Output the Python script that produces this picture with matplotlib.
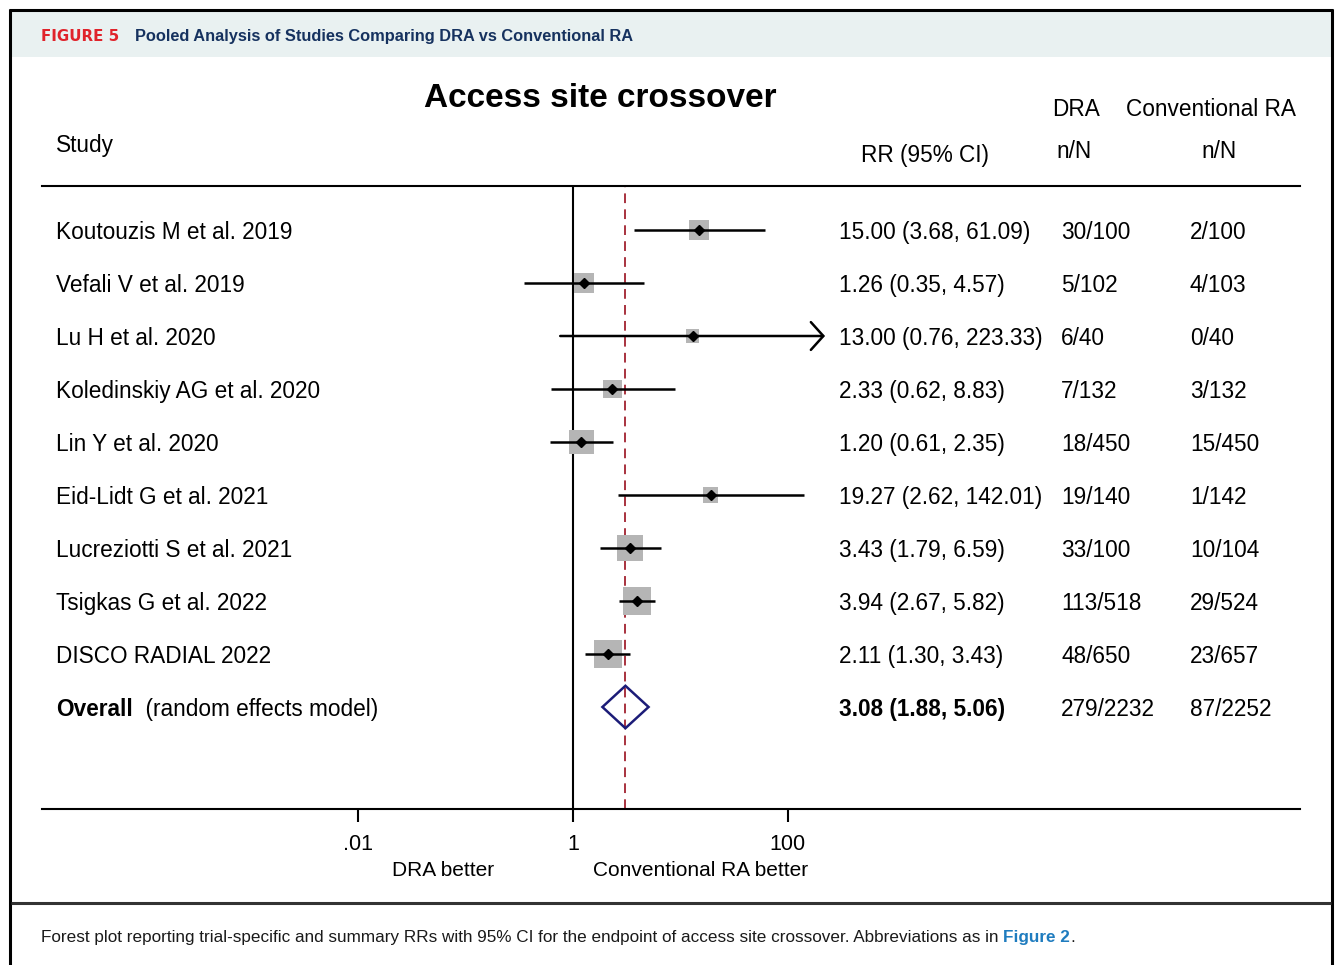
import matplotlib
matplotlib.use("Agg")
import matplotlib.pyplot as plt
from matplotlib import font_manager
from matplotlib.patches import Rectangle, Polygon
from matplotlib.transforms import blended_transform_factory
import numpy as np

# ---------------- Data ----------------
studies = [
    "Koutouzis M et al. 2019",
    "Vefali V et al. 2019",
    "Lu H et al. 2020",
    "Koledinskiy AG et al. 2020",
    "Lin Y et al. 2020",
    "Eid-Lidt G et al. 2021",
    "Lucreziotti S et al. 2021",
    "Tsigkas G et al. 2022",
    "DISCO RADIAL 2022",
]
rr = [15.00, 1.26, 13.00, 2.33, 1.20, 19.27, 3.43, 3.94, 2.11]
ci_lo = [3.68, 0.35, 0.76, 0.62, 0.61, 2.62, 1.79, 2.67, 1.30]
ci_hi = [61.09, 4.57, 223.33, 8.83, 2.35, 142.01, 6.59, 5.82, 3.43]
weights = [8.8, 9.2, 3.9, 8.3, 13.3, 5.2, 15.6, 18.1, 17.5]

dra_events = [30, 5, 6, 7, 18, 19, 33, 113, 48]
dra_total = [100, 102, 40, 132, 450, 140, 100, 518, 650]
conv_events = [2, 4, 0, 3, 15, 1, 10, 29, 23]
conv_total = [100, 103, 40, 132, 450, 142, 104, 524, 657]

overall_rr, overall_lo, overall_hi = 3.08, 1.88, 5.06

xticks = [0.01, 1, 100]
xtick_labels = [".01", "1", "100"]

# ---------------- Fonts ----------------
_names = {f.name for f in font_manager.fontManager.ttflist}
SANS = "Liberation Sans" if "Liberation Sans" in _names else "DejaVu Sans"
NARROW = "Liberation Sans Narrow" if "Liberation Sans Narrow" in _names else SANS
plt.rcParams["font.family"] = [SANS, "DejaVu Sans"]

FS = 16.3
VA = "center_baseline"
W, H = 1337, 965

fig = plt.figure(figsize=(W / 100, H / 100), dpi=100)

# pixel-space canvas for frame and headings
bg = fig.add_axes([0, 0, 1, 1])
bg.set_xlim(0, W)
bg.set_ylim(H, 0)
bg.axis("off")

bg.add_patch(Rectangle((11, 11), 1320, 46, facecolor="#e9f1f1", lw=0))
bg.plot([10, 10], [9, H], color="black", lw=2.2, solid_capstyle="butt")
bg.plot([1332, 1332], [9, H], color="black", lw=2.2, solid_capstyle="butt")
bg.plot([9, 1333], [10, 10], color="black", lw=2.2, solid_capstyle="butt")
bg.plot([11, 1331], [903, 903], color="#333333", lw=2.2, solid_capstyle="butt")

bg.text(41, 35, "FIGURE 5", color="#e0232b", fontsize=10.8, fontweight="bold",
        family="DejaVu Sans", va=VA, ha="left")
bg.text(135, 35, "Pooled Analysis of Studies Comparing DRA vs Conventional RA",
        color="#16325f", fontsize=11.8, fontweight="bold", family=NARROW,
        va=VA, ha="left")

cap = bg.text(41, 936, "Forest plot reporting trial-specific and summary RRs with 95% CI "
              "for the endpoint of access site crossover. Abbreviations as in ",
              fontsize=12.35, family=NARROW, va=VA, ha="left", color="#1a1a1a")
fig2 = bg.annotate("Figure 2", xy=(1, 0), xycoords=cap, va="bottom", ha="left",
                   fontsize=12.35, family=NARROW, fontweight="bold", color="#1f7cbf")
bg.annotate(".", xy=(1, 0), xycoords=fig2, va="bottom", ha="left",
            fontsize=12.35, family=NARROW, color="#1a1a1a")

# column headings
bg.text(600, 95, "Access site crossover", fontsize=24, fontweight="bold",
        ha="center", va=VA)
bg.text(56, 143, "Study", fontsize=FS, ha="left", va=VA)
bg.text(861, 153, "RR (95% CI)", fontsize=FS, ha="left", va=VA)
bg.text(1052, 107, "DRA", fontsize=FS, ha="left", va=VA)
bg.text(1126, 107, "Conventional RA", fontsize=FS, ha="left", va=VA)
bg.text(1056, 149, "n/N", fontsize=FS, ha="left", va=VA)
bg.text(1201, 149, "n/N", fontsize=FS, ha="left", va=VA)

# ---------------- Forest panel ----------------
x0, x1, y_top, y_bot = 42, 1300, 186, 809
px_one, px_dec = 573, 107.3
row0, row_step = 230, 53

ax = fig.add_axes([x0 / W, 1 - y_bot / H, (x1 - x0) / W, (y_bot - y_top) / H])
ax.patch.set_visible(False)
ax.set_xscale("log")
ax.set_xlim(10 ** ((x0 - px_one) / px_dec), 10 ** ((x1 - px_one) / px_dec))
ax.set_ylim((y_bot - row0) / row_step, (y_top - row0) / row_step)

for side in ("left", "right"):
    ax.spines[side].set_visible(False)
for side in ("top", "bottom"):
    ax.spines[side].set_linewidth(1.5)

ax.set_xticks(xticks)
ax.set_xticklabels(xtick_labels, fontsize=15.5)
ax.xaxis.set_minor_locator(matplotlib.ticker.NullLocator())
ax.tick_params(axis="x", direction="out", length=9.5, width=1.5, pad=8.5)
ax.set_yticks([])

ax.axvline(1, color="black", lw=1.5)
ax.axvline(overall_rr, color="#a8323e", lw=1.4, dashes=(5, 3.2))

rows = np.arange(len(studies))
sizes = 4.74 * np.sqrt(weights)
ax.scatter(rr, rows, marker="s", s=sizes ** 2, color="#b5b5b5", lw=0, zorder=2)

for i in rows:
    if ci_hi[i] > 200:
        ax.annotate("", xy=(ci_hi[i], i), xytext=(ci_lo[i], i),
                    arrowprops=dict(arrowstyle="->,head_length=0.45,head_width=0.5",
                                    lw=1.8, color="black", shrinkA=0, shrinkB=0,
                                    mutation_scale=20), zorder=3)
    else:
        ax.plot([ci_lo[i], ci_hi[i]], [i, i], color="black", lw=1.8,
                solid_capstyle="butt", zorder=3)
ax.plot(rr, rows, "D", color="black", ms=4.6, lw=0, zorder=4)

# pooled estimate diamond
oy = len(studies)
ax.add_patch(Polygon([(overall_lo, oy), (overall_rr, oy - 0.4),
                      (overall_hi, oy), (overall_rr, oy + 0.4)],
                     closed=True, fill=False, edgecolor="#1c1c78", lw=1.8, zorder=4))

# text columns
tr = blended_transform_factory(bg.transData, ax.transData)
for i in rows:
    ax.text(56, i, studies[i], transform=tr, fontsize=FS, va=VA, ha="left")
    ax.text(839, i, f"{rr[i]:.2f} ({ci_lo[i]:.2f}, {ci_hi[i]:.2f})",
            transform=tr, fontsize=FS, va=VA, ha="left")
    ax.text(1061, i, f"{dra_events[i]}/{dra_total[i]}", transform=tr,
            fontsize=FS, va=VA, ha="left")
    ax.text(1190, i, f"{conv_events[i]}/{conv_total[i]}", transform=tr,
            fontsize=FS, va=VA, ha="left")

ov = ax.text(56, oy, "Overall", transform=tr, fontsize=FS, fontweight="bold",
             va=VA, ha="left")
ax.annotate("  (random effects model)", xy=(1, 0), xycoords=ov,
            fontsize=FS, va="bottom", ha="left")
ax.text(839, oy, f"{overall_rr:.2f} ({overall_lo:.2f}, {overall_hi:.2f})",
        transform=tr, fontsize=FS, fontweight="bold", va=VA, ha="left")
ax.text(1061, oy, f"{sum(dra_events)}/{sum(dra_total)}", transform=tr,
        fontsize=FS, va=VA, ha="left")
ax.text(1190, oy, f"{sum(conv_events)}/{sum(conv_total)}", transform=tr,
        fontsize=FS, va=VA, ha="left")

bg.text(443, 869, "DRA better", fontsize=15.0, ha="center", va=VA)
bg.text(701, 869, "Conventional RA better", fontsize=15.0, ha="center", va=VA)

fig.savefig("out.png", dpi=100)
